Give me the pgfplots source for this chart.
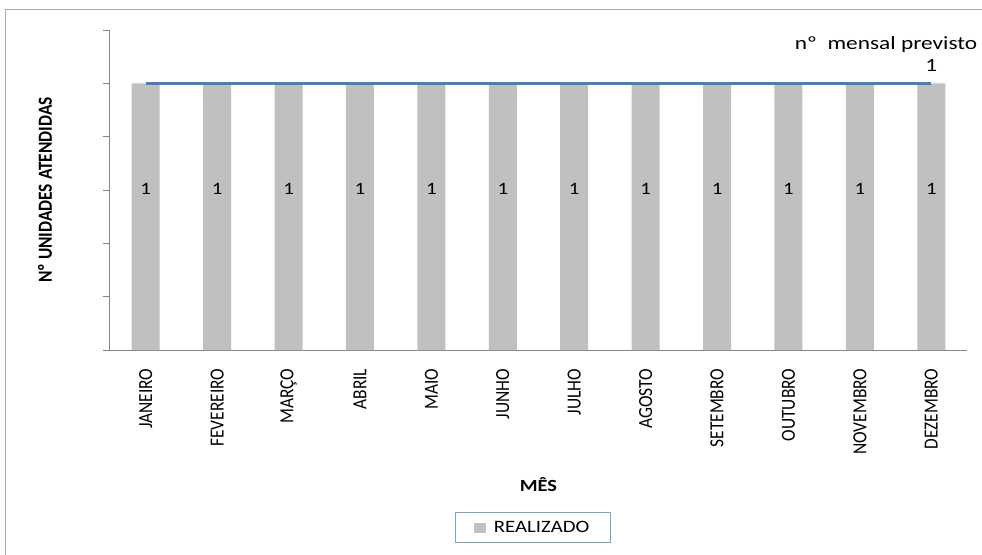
\documentclass[border=0pt]{standalone}
\usepackage{fontspec}
\setmainfont{Carlito}
\newfontfamily\hfont{Carlito}[FakeStretch=1.2]
\newfontfamily\lfont{Carlito}[FakeStretch=1.25]
\newfontfamily\vfont{Carlito}[FakeStretch=0.87]
\usepackage{pgfplots}
\pgfplotsset{compat=1.18}
\definecolor{barGray}{HTML}{C0C0C0}
\definecolor{lineBlue}{HTML}{4A7EBB}
\definecolor{axGray}{HTML}{868686}
\definecolor{legBlue}{HTML}{7F9FCF}
\begin{document}
\begin{tikzpicture}
\useasboundingbox (-82.5pt,-153pt) rectangle (654pt,262.5pt);
\draw[axGray!70, line width=0.75pt] (-78pt,-170pt) -- (-78pt,255pt) -- (680pt,255pt);
\begin{axis}[
  at={(0,0)}, anchor=south west,
  scale only axis,
  width=642.75pt, height=240pt,
  xmin=-0.5, xmax=11.5, ymin=0, ymax=1.2,
  axis lines=left,
  axis line style={-, axGray, line width=0.75pt},
  xtick={0,...,11},
  xticklabels={JANEIRO,FEVEREIRO,MARÇO,ABRIL,MAIO,JUNHO,JULHO,AGOSTO,SETEMBRO,OUTUBRO,NOVEMBRO,DEZEMBRO},
  xtick style={draw=none},
  minor xtick={-0.5,0.5,...,11.5},
  minor tick length=4pt,
  minor tick style={axGray, line width=0.75pt},
  ytick={0,0.2,...,1.21},
  yticklabels={},
  ytick style={axGray, line width=0.75pt},
  major tick length=5.5pt,
  tick align=outside,
  xticklabel style={yshift=-5pt, rotate=90, anchor=east, font=\vfont\fontsize{15}{17}\selectfont},
  xlabel={\textbf{MÊS}},
  xlabel style={at={(axis description cs:0.5,-0.4219)}, anchor=center, font=\hfont\fontsize{12.75}{14}\selectfont},
  ylabel={\textbf{Nº UNIDADES ATENDIDAS}},
  ylabel style={at={(axis description cs:-0.0758,0.5)}, anchor=center, rotate=0, font=\vfont\fontsize{15}{17}\selectfont},
  legend style={at={(axis description cs:0.4936,-0.5547)}, anchor=center, draw=legBlue, line width=0.75pt,
    inner xsep=14pt, inner ysep=4.5pt, font=\hfont\fontsize{13}{14}\selectfont},
  legend cell align=left,
  clip=false,
]
\addplot[ybar, bar width=21pt, fill=barGray, draw=none,
  legend image code/.code={\fill[barGray] (0pt,-3.75pt) rectangle (9pt,3.75pt); \path (13pt,0pt);},
  nodes near coords={1},
  every node near coord/.append style={anchor=center, yshift=-79.5pt, text=black, font=\hfont\fontsize{13}{14}\selectfont}]
coordinates {(0,1) (1,1) (2,1) (3,1) (4,1) (5,1) (6,1) (7,1) (8,1) (9,1) (10,1) (11,1)};
\addlegendentry{REALIZADO}
\addplot[lineBlue, line width=2.25pt, mark=none, forget plot]
coordinates {(0,1) (1,1) (2,1) (3,1) (4,1) (5,1) (6,1) (7,1) (8,1) (9,1) (10,1) (11,1)};
\node[anchor=center, font=\lfont\fontsize{14}{16}\selectfont] at (axis cs:11,1) [yshift=13.5pt] {1};
\end{axis}
\node[anchor=east, font=\lfont\fontsize{14}{16}\selectfont] at (654pt,228.75pt) {nº\ \ mensal previsto};
\end{tikzpicture}
\end{document}
